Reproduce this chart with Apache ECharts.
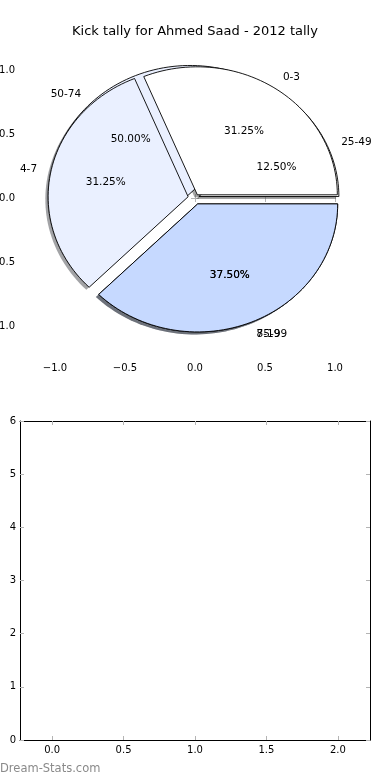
<!DOCTYPE html>
<html>
<head>
<meta charset="utf-8">
<script src="https://cdn.jsdelivr.net/npm/echarts@6/dist/echarts.min.js"></script>
<style>
html,body{margin:0;padding:0;background:#fff;}
#chart{width:390px;height:780px;}
</style>
</head>
<body>
<div id="chart"></div>
<script>
// ---- data ----
const titleText = 'Kick tally for Ahmed Saad - 2012 tally';
// first pie (drawn on top)
const labelsA = ['0-3', '4-7', '8-19'];
const tallyA = [5, 5, 6];
// second pie (drawn underneath)
const labelsB = ['25-49', '50-74', '75-99'];
const tallyB = [1, 4, 3];
// tick labels
const pieTicks = [-1.0, -0.5, 0.0, 0.5, 1.0];
const lowerXTicks = [0.0, 0.5, 1.0, 1.5, 2.0];
const lowerYTicks = [0, 1, 2, 3, 4, 5, 6];

// ---- style ----
const sliceColors = ['#ffffff', '#eaf0ff', '#c6d9ff'];
const explode = [0.03, 0.05, 0.05];
const FONT = 'DejaVu Sans';
const tickGray = '#b4b4b4';

const pies = [
  { labels: labelsB, values: tallyB },
  { labels: labelsA, values: tallyA }
];

function wedgeGeom(p, i) {
  const vals = pies[p].values;
  const total = vals.reduce((a, b) => a + b, 0);
  let before = 0;
  for (let k = 0; k < i; k++) before += vals[k];
  const a1 = before / total * 2 * Math.PI;
  const a2 = (before + vals[i]) / total * 2 * Math.PI;
  const mid = (a1 + a2) / 2;
  const e = explode[i];
  return { a1, a2, mid, frac: vals[i] / total, cx: e * Math.cos(mid), cy: e * Math.sin(mid), e };
}

function fmtTick(v) {
  return v.toFixed(1).replace('-', '\u2212');
}

const wedgeData = [];
const labelData = [];
pies.forEach((pie, p) => {
  pie.values.forEach((v, i) => {
    wedgeData.push([p, i]);
    labelData.push([p, i, 0]);
    labelData.push([p, i, 1]);
  });
});

function wedgePoints(api, g, ox, oy) {
  const n = Math.max(8, Math.ceil((g.a2 - g.a1) / (Math.PI / 90)));
  const arr = [api.coord([g.cx + ox, g.cy + oy])];
  for (let k = 0; k <= n; k++) {
    const a = g.a1 + (g.a2 - g.a1) * k / n;
    arr.push(api.coord([g.cx + ox + Math.cos(a), g.cy + oy + Math.sin(a)]));
  }
  return arr;
}

function renderShadow(params, api) {
  const p = api.value(0), i = api.value(1);
  const g = wedgeGeom(p, i);
  const c = echarts.color.parse(sliceColors[i]);
  const shadowFill = 'rgba(' + Math.round(c[0] * 0.3) + ',' + Math.round(c[1] * 0.3) + ',' + Math.round(c[2] * 0.3) + ',0.5)';
  return { type: 'polygon', shape: { points: wedgePoints(api, g, -0.02, -0.02) }, style: { fill: shadowFill, stroke: null } };
}

function renderWedge(params, api) {
  const p = api.value(0), i = api.value(1);
  const g = wedgeGeom(p, i);
  return { type: 'polygon', shape: { points: wedgePoints(api, g, 0, 0) }, style: { fill: sliceColors[i], stroke: '#000', lineWidth: 0.9 } };
}

function renderLabel(params, api) {
  const p = api.value(0), i = api.value(1), kind = api.value(2);
  const g = wedgeGeom(p, i);
  let x, y, txt, align;
  if (kind === 0) {
    x = g.cx + 1.1 * Math.cos(g.mid);
    y = g.cy + 1.1 * Math.sin(g.mid);
    txt = pies[p].labels[i];
    align = x > 0 ? 'left' : 'right';
  } else {
    x = g.cx + 0.6 * Math.cos(g.mid);
    y = g.cy + 0.6 * Math.sin(g.mid);
    txt = (g.frac * 100).toFixed(2) + '%';
    align = 'center';
  }
  const pt = api.coord([x, y]);
  return {
    type: 'text',
    x: pt[0], y: pt[1],
    style: { text: txt, fill: '#000', font: '10.5px "' + FONT + '"', align: align, verticalAlign: 'middle' }
  };
}

const tickCommon = { show: true, inside: true, length: 4, lineStyle: { color: tickGray, width: 1 } };
const labelCommon = { color: '#000', fontSize: 10, fontFamily: FONT };

const option = {
  backgroundColor: '#fff',
  animation: false,
  title: {
    text: titleText, left: 'center', top: 20,
    textStyle: { fontFamily: FONT, fontSize: 13, fontWeight: 'normal', color: '#000' }
  },
  grid: [
    { left: 20, top: 38, width: 350, height: 320, containLabel: false, outerBoundsMode: 'none' },
    { left: 20, top: 421, width: 350, height: 319, containLabel: false, outerBoundsMode: 'none' }
  ],
  xAxis: [
    { type: 'value', gridIndex: 0, position: 'bottom', min: -1.25, max: 1.25,
      axisLine: { show: false }, splitLine: { show: false },
      axisTick: Object.assign({ customValues: pieTicks }, tickCommon),
      axisLabel: Object.assign({ customValues: pieTicks, formatter: fmtTick, margin: 5 }, labelCommon) },
    { type: 'value', gridIndex: 0, position: 'top', min: -1.25, max: 1.25,
      axisLine: { show: false }, splitLine: { show: false },
      axisTick: Object.assign({ customValues: pieTicks }, tickCommon),
      axisLabel: { show: false } },
    { type: 'value', gridIndex: 1, position: 'bottom', min: -0.225, max: 2.225,
      axisLine: { show: true, onZero: false, lineStyle: { color: '#000', width: 1 } }, splitLine: { show: false },
      axisTick: Object.assign({ customValues: lowerXTicks }, tickCommon),
      axisLabel: Object.assign({ customValues: lowerXTicks, formatter: fmtTick, margin: 5 }, labelCommon) },
    { type: 'value', gridIndex: 1, position: 'top', min: -0.225, max: 2.225,
      axisLine: { show: true, onZero: false, lineStyle: { color: '#000', width: 1 } }, splitLine: { show: false },
      axisTick: Object.assign({ customValues: lowerXTicks }, tickCommon),
      axisLabel: { show: false } }
  ],
  yAxis: [
    { type: 'value', gridIndex: 0, position: 'left', min: -1.25, max: 1.25,
      axisLine: { show: false }, splitLine: { show: false },
      axisTick: Object.assign({ customValues: pieTicks }, tickCommon),
      axisLabel: Object.assign({ customValues: pieTicks, formatter: fmtTick, margin: 5 }, labelCommon) },
    { type: 'value', gridIndex: 0, position: 'right', min: -1.25, max: 1.25,
      axisLine: { show: false }, splitLine: { show: false },
      axisTick: Object.assign({ customValues: pieTicks }, tickCommon),
      axisLabel: { show: false } },
    { type: 'value', gridIndex: 1, position: 'left', min: 0, max: 6, interval: 1,
      axisLine: { show: true, onZero: false, lineStyle: { color: '#000', width: 1 } }, splitLine: { show: false },
      axisTick: tickCommon,
      axisLabel: Object.assign({ margin: 4, formatter: v => String(v) }, labelCommon) },
    { type: 'value', gridIndex: 1, position: 'right', min: 0, max: 6, interval: 1,
      axisLine: { show: true, onZero: false, lineStyle: { color: '#000', width: 1 } }, splitLine: { show: false },
      axisTick: tickCommon,
      axisLabel: { show: false } }
  ],
  graphic: [
    { type: 'text', left: 0, top: 763,
      style: { text: 'Dream-Stats.com', fill: '#8a8a8a', font: '11.5px "' + FONT + '"' } }
  ],
  series: [
    { type: 'custom', xAxisIndex: 0, yAxisIndex: 0, data: wedgeData, renderItem: renderShadow, clip: false, z: 1, silent: true },
    { type: 'custom', xAxisIndex: 0, yAxisIndex: 0, data: wedgeData, renderItem: renderWedge, clip: false, z: 2, silent: true },
    { type: 'custom', xAxisIndex: 0, yAxisIndex: 0, data: labelData, renderItem: renderLabel, clip: false, z: 5, silent: true }
  ]
};

const chart = echarts.init(document.getElementById('chart'), null, { renderer: 'canvas' });
chart.setOption(option);
</script>
</body>
</html>
